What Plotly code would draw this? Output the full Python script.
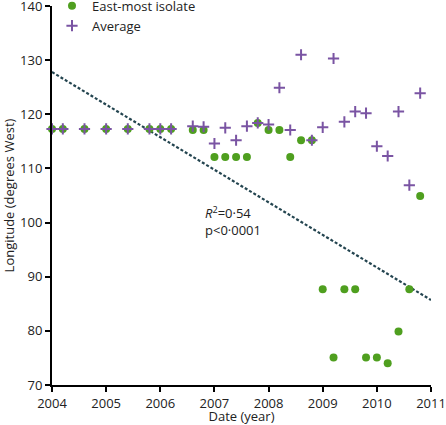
import plotly.graph_objects as go

dates = [2004.0, 2004.2, 2004.6, 2005.0, 2005.4, 2005.8, 2006.0, 2006.2, 2006.6, 2006.8,
         2007.0, 2007.2, 2007.4, 2007.6, 2007.8, 2008.0, 2008.2, 2008.4, 2008.6, 2008.8,
         2009.0, 2009.2, 2009.4, 2009.6, 2009.8, 2010.0, 2010.2, 2010.4, 2010.6, 2010.8]

east_most = [117.3, 117.3, 117.3, 117.3, 117.3, 117.3, 117.3, 117.3, 117.1, 117.1,
             112.1, 112.1, 112.1, 112.1, 118.4, 117.1, 117.1, 112.1, 115.2, 115.2,
             87.7, 75.1, 87.7, 87.7, 75.1, 75.1, 74.0, 79.9, 87.7, 104.9]

average = [117.3, 117.3, 117.3, 117.3, 117.3, 117.3, 117.3, 117.3, 117.8, 117.7,
           114.6, 117.5, 115.2, 117.8, 118.4, 118.1, 124.9, 117.1, 131.0, 115.2,
           117.6, 130.3, 118.6, 120.5, 120.2, 114.1, 112.3, 120.5, 106.9, 123.9]

trend_x = [2004, 2011]
trend_y = [127.8, 85.7]

x_ticks = [2004, 2005, 2006, 2007, 2008, 2009, 2010, 2011]
y_ticks = [70, 80, 90, 100, 110, 120, 130, 140]

GREEN = "#4f9f1f"
PURPLE = "#7a54a3"
LINE = "#244550"
FONT = "Open Sans"

fig = go.Figure()
fig.add_trace(go.Scatter(
    x=trend_x, y=trend_y, mode="lines", showlegend=False,
    line=dict(color=LINE, width=2.2, dash="3px,2px"), hoverinfo="skip"))
fig.add_trace(go.Scatter(
    x=dates, y=east_most, mode="markers", name="East-most isolate",
    marker=dict(color=GREEN, size=8, symbol="circle"), cliponaxis=False))
fig.add_trace(go.Scatter(
    x=dates, y=average, mode="markers", name="Average",
    marker=dict(color=PURPLE, size=8, symbol="cross-thin",
                line=dict(color=PURPLE, width=2)), cliponaxis=False))

fig.add_annotation(
    x=2006.78, y=100.3, xref="x", yref="y", xanchor="left", yanchor="middle",
    text="<i>R</i><sup>2</sup>=0·54<br>p<0·0001", showarrow=False, align="left",
    font=dict(family=FONT, size=13, color="#222"))

axis_common = dict(
    showline=True, linecolor="black", linewidth=2, showgrid=False, zeroline=False,
    ticks="outside", ticklen=5, tickwidth=1.5, tickcolor="black", automargin=False,
    ticklabeloverflow="allow",
    tickfont=dict(family=FONT, size=13, color="#222"))

fig.update_xaxes(range=[2004, 2011], tickvals=x_ticks, ticktext=[str(v) for v in x_ticks],
                 title=dict(text="Date (year)", font=dict(family=FONT, size=13, color="#222"),
                            standoff=2),
                 **axis_common)
fig.update_yaxes(range=[70, 140], tickvals=y_ticks,
                 title=dict(text="Longitude (degrees West)",
                            font=dict(family=FONT, size=13, color="#222"), standoff=5),
                 **axis_common)

fig.update_layout(
    width=446, height=425,
    margin=dict(l=52, r=15, t=6, b=40, autoexpand=False),
    plot_bgcolor="white", paper_bgcolor="white",
    font=dict(family=FONT, size=13, color="#222"),
    legend=dict(x=0.0, y=1.04, xanchor="left", yanchor="top",
                bgcolor="rgba(0,0,0,0)", itemwidth=30, tracegroupgap=0,
                font=dict(family=FONT, size=13, color="#222")),
)

fig.write_html("out.html", config={"displayModeBar": False},
               post_script="document.body.style.margin='0';")
